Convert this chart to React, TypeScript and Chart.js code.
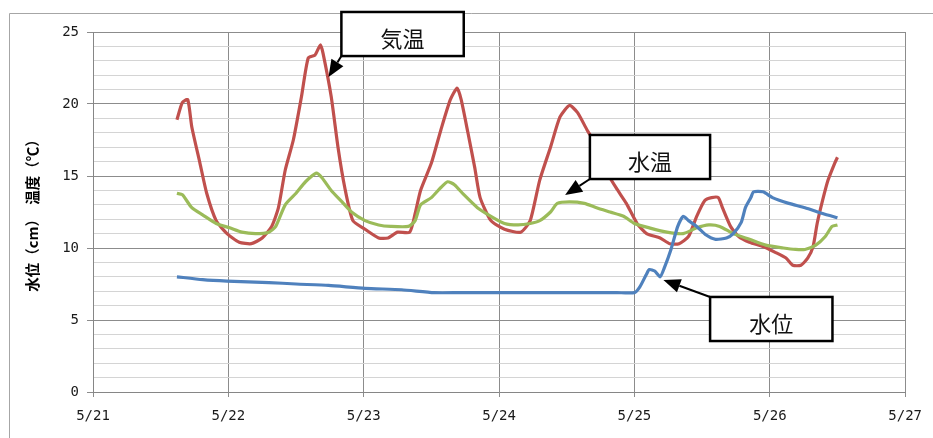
import React, { useEffect, useRef } from "react";
import { Chart, registerables } from "chart.js";

Chart.register(...registerables);

// ---- data ----
const dayLabels = ["5/21", "5/22", "5/23", "5/24", "5/25", "5/26", "5/27"];
const yAxisTitle = "水位（cm）　温度（℃）";

// 気温 (air temperature) — x in days since 5/21 00:00
const airTempX = [0.62, 0.66, 0.7, 0.73, 0.79, 0.84, 0.91, 0.99, 1.08, 1.17, 1.25, 1.32, 1.37, 1.42, 1.48, 1.54, 1.59, 1.64, 1.68, 1.7, 1.76, 1.81, 1.86, 1.92, 2.01, 2.11, 2.18, 2.25, 2.34, 2.38, 2.42, 2.5, 2.57, 2.64, 2.69, 2.72, 2.77, 2.82, 2.86, 2.94, 3.04, 3.16, 3.23, 3.3, 3.38, 3.45, 3.52, 3.58, 3.65, 3.72, 3.8, 3.87, 3.94, 4.02, 4.09, 4.19, 4.26, 4.33, 4.4, 4.46, 4.52, 4.57, 4.62, 4.65, 4.71, 4.77, 4.85, 4.95, 5.04, 5.12, 5.17, 5.23, 5.28, 5.32, 5.35, 5.39, 5.43, 5.48, 5.5];
const airTemp = [18.9, 20.1, 20.3, 18.4, 15.9, 13.8, 11.9, 11.0, 10.4, 10.3, 10.7, 11.5, 12.8, 15.4, 17.5, 20.5, 23.2, 23.4, 24.1, 23.5, 20.5, 17.0, 14.2, 11.9, 11.3, 10.7, 10.7, 11.1, 11.1, 12.4, 14.0, 15.9, 18.2, 20.3, 21.1, 20.3, 18.0, 15.6, 13.5, 11.9, 11.3, 11.1, 11.9, 14.7, 17.0, 19.1, 19.9, 19.4, 18.2, 17.1, 15.2, 14.1, 13.1, 11.7, 11.0, 10.7, 10.3, 10.3, 10.8, 12.2, 13.3, 13.5, 13.5, 12.8, 11.5, 10.8, 10.4, 10.1, 9.7, 9.3, 8.8, 8.8, 9.3, 10.1, 11.7, 13.3, 14.7, 15.9, 16.3];

// 水温 (water temperature)
const waterTempX = [0.62, 0.66, 0.73, 0.81, 0.91, 1.01, 1.1, 1.2, 1.3, 1.35, 1.42, 1.5, 1.57, 1.65, 1.69, 1.76, 1.84, 1.91, 2.01, 2.11, 2.2, 2.33, 2.38, 2.42, 2.5, 2.57, 2.62, 2.67, 2.74, 2.84, 2.94, 3.04, 3.14, 3.23, 3.3, 3.38, 3.43, 3.52, 3.63, 3.72, 3.82, 3.92, 4.0, 4.11, 4.24, 4.36, 4.46, 4.55, 4.63, 4.73, 4.85, 4.97, 5.1, 5.19, 5.26, 5.34, 5.41, 5.46, 5.5];
const waterTemp = [13.8, 13.7, 12.8, 12.3, 11.7, 11.4, 11.1, 11.0, 11.1, 11.5, 13.0, 13.8, 14.6, 15.2, 14.9, 14.0, 13.2, 12.5, 11.9, 11.6, 11.5, 11.5, 11.9, 13.0, 13.5, 14.2, 14.6, 14.4, 13.7, 12.8, 12.2, 11.7, 11.6, 11.7, 11.9, 12.5, 13.1, 13.2, 13.1, 12.8, 12.5, 12.2, 11.7, 11.4, 11.1, 11.0, 11.4, 11.6, 11.5, 11.0, 10.6, 10.2, 10.0, 9.9, 9.9, 10.2, 10.8, 11.5, 11.6];

// 水位 (water level)
const waterLevelX = [0.62, 0.81, 0.99, 1.3, 1.5, 1.74, 2.01, 2.28, 2.52, 2.71, 2.89, 3.13, 3.38, 3.62, 3.87, 4.0, 4.04, 4.09, 4.11, 4.15, 4.19, 4.22, 4.27, 4.32, 4.36, 4.4, 4.46, 4.53, 4.6, 4.68, 4.73, 4.79, 4.82, 4.86, 4.88, 4.95, 5.02, 5.14, 5.26, 5.39, 5.5];
const waterLevel = [8.0, 7.8, 7.7, 7.6, 7.5, 7.4, 7.2, 7.1, 6.9, 6.9, 6.9, 6.9, 6.9, 6.9, 6.9, 6.9, 7.3, 8.2, 8.5, 8.4, 8.0, 8.6, 9.9, 11.5, 12.2, 11.9, 11.5, 10.9, 10.6, 10.7, 11.0, 11.8, 12.8, 13.5, 13.9, 13.9, 13.5, 13.1, 12.8, 12.4, 12.1];

// callouts: box corners and arrow in data coordinates
const callouts = [
  { text: "気温", box: [1.835, 26.39, 2.739, 23.33], from: [1.835, 23.33], to: [1.74, 21.875] },
  { text: "水温", box: [3.671, 17.85, 4.559, 14.79], from: [3.671, 14.79], to: [3.488, 13.68] },
  { text: "水位", box: [4.559, 6.6, 5.463, 3.54], from: [4.559, 6.6], to: [4.214, 7.78] },
];

const toPoints = (xs: number[], ys: number[]) => xs.map((x, i) => ({ x, y: ys[i] }));

const framePlugin = {
  id: "frame",
  beforeDraw(chart: any) {
    const { ctx, width, height } = chart;
    ctx.save();
    ctx.fillStyle = "#ffffff";
    ctx.fillRect(0, 0, width, height);
    ctx.strokeStyle = "#a6a6a6";
    ctx.lineWidth = 1;
    ctx.beginPath();
    ctx.moveTo(9.5, height);
    ctx.lineTo(9.5, 13.5);
    ctx.lineTo(width, 13.5);
    ctx.stroke();
    ctx.restore();
  },
};

const calloutPlugin = {
  id: "callouts",
  afterDraw(chart: any) {
    const { ctx } = chart;
    const xs = chart.scales.x;
    const ys = chart.scales.y;
    ctx.save();
    for (const c of callouts) {
      const fx = xs.getPixelForValue(c.from[0]);
      const fy = ys.getPixelForValue(c.from[1]);
      const tx = xs.getPixelForValue(c.to[0]);
      const ty = ys.getPixelForValue(c.to[1]);
      const ang = Math.atan2(ty - fy, tx - fx);
      const hl = 17;
      const hw = 7;
      const bx = tx - hl * Math.cos(ang);
      const by = ty - hl * Math.sin(ang);
      ctx.strokeStyle = "#000";
      ctx.fillStyle = "#000";
      ctx.lineWidth = 2;
      ctx.beginPath();
      ctx.moveTo(fx, fy);
      ctx.lineTo(bx, by);
      ctx.stroke();
      ctx.beginPath();
      ctx.moveTo(tx, ty);
      ctx.lineTo(bx + hw * Math.sin(ang), by - hw * Math.cos(ang));
      ctx.lineTo(bx - hw * Math.sin(ang), by + hw * Math.cos(ang));
      ctx.closePath();
      ctx.fill();

      const x1 = xs.getPixelForValue(c.box[0]);
      const y1 = ys.getPixelForValue(c.box[1]);
      const x2 = xs.getPixelForValue(c.box[2]);
      const y2 = ys.getPixelForValue(c.box[3]);
      ctx.fillStyle = "#ffffff";
      ctx.fillRect(x1, y1, x2 - x1, y2 - y1);
      ctx.lineWidth = 2.5;
      ctx.strokeStyle = "#000";
      ctx.strokeRect(x1, y1, x2 - x1, y2 - y1);
      ctx.fillStyle = "#111";
      ctx.font = '22px "Noto Sans CJK JP"';
      ctx.textAlign = "center";
      ctx.textBaseline = "middle";
      ctx.fillText(c.text, (x1 + x2) / 2, (y1 + y2) / 2 + 5);
    }
    ctx.restore();
  },
};

export default function App() {
  const ref = useRef<HTMLCanvasElement>(null);

  useEffect(() => {
    if (!ref.current) return;
    const tickFont = { family: "DejaVu Sans Mono", size: 14 };
    const chart = new Chart(ref.current, {
      type: "line",
      data: {
        datasets: [
          {
            label: "水位",
            data: toPoints(waterLevelX, waterLevel),
            borderColor: "#4F81BD",
            borderWidth: 3.2,
            pointRadius: 0,
            tension: 0.2,
            order: 0,
          },
          {
            label: "水温",
            data: toPoints(waterTempX, waterTemp),
            borderColor: "#9BBB59",
            borderWidth: 3.2,
            pointRadius: 0,
            tension: 0.2,
            order: 1,
          },
          {
            label: "気温",
            data: toPoints(airTempX, airTemp),
            borderColor: "#C0504D",
            borderWidth: 3.2,
            pointRadius: 0,
            tension: 0.2,
            order: 2,
          },
        ],
      },
      options: {
        animation: false,
        responsive: false,
        layout: { padding: { top: 32, right: 24, left: 0, bottom: 0 } },
        plugins: { legend: { display: false }, tooltip: { enabled: false } },
        scales: {
          x: {
            type: "linear",
            min: 0,
            max: 6,
            afterFit: (s: any) => {
              s.height = 46;
            },
            ticks: {
              stepSize: 1,
              autoSkip: false,
              maxRotation: 0,
              padding: 11,
              color: "#1a1a1a",
              font: tickFont,
              callback: (v: any) => dayLabels[Math.round(Number(v))] ?? "",
            },
            grid: { color: "#8c8c8c", tickLength: 5, tickColor: "#8c8c8c" },
            border: { color: "#868686" },
          },
          y: {
            min: 0,
            max: 25,
            afterFit: (s: any) => {
              s.width = 93;
            },
            ticks: {
              stepSize: 1,
              autoSkip: false,
              padding: 8,
              color: "#1a1a1a",
              font: tickFont,
              callback: (v: any) => (Number(v) % 5 === 0 ? String(v) : ""),
            },
            grid: {
              color: (c: any) => (c.tick && c.tick.value % 5 === 0 ? "#8c8c8c" : "#d4d4d4"),
              tickLength: 6,
              tickColor: (c: any) => (c.tick && c.tick.value % 5 === 0 ? "#8c8c8c" : "rgba(0,0,0,0)"),
            },
            border: { color: "#868686" },
            title: {
              display: true,
              text: yAxisTitle,
              color: "#000",
              font: { family: "Noto Sans CJK JP", size: 14.5, weight: "bold" },
              padding: { top: 24, bottom: 0 },
            },
          },
        },
      },
      plugins: [framePlugin, calloutPlugin],
    } as any);
    return () => chart.destroy();
  }, []);

  return (
    <div style={{ position: "fixed", left: 0, top: 0, width: 933, height: 438, background: "#fff" }}>
      <canvas ref={ref} width={933} height={438} style={{ display: "block", width: 933, height: 438 }} />
    </div>
  );
}
